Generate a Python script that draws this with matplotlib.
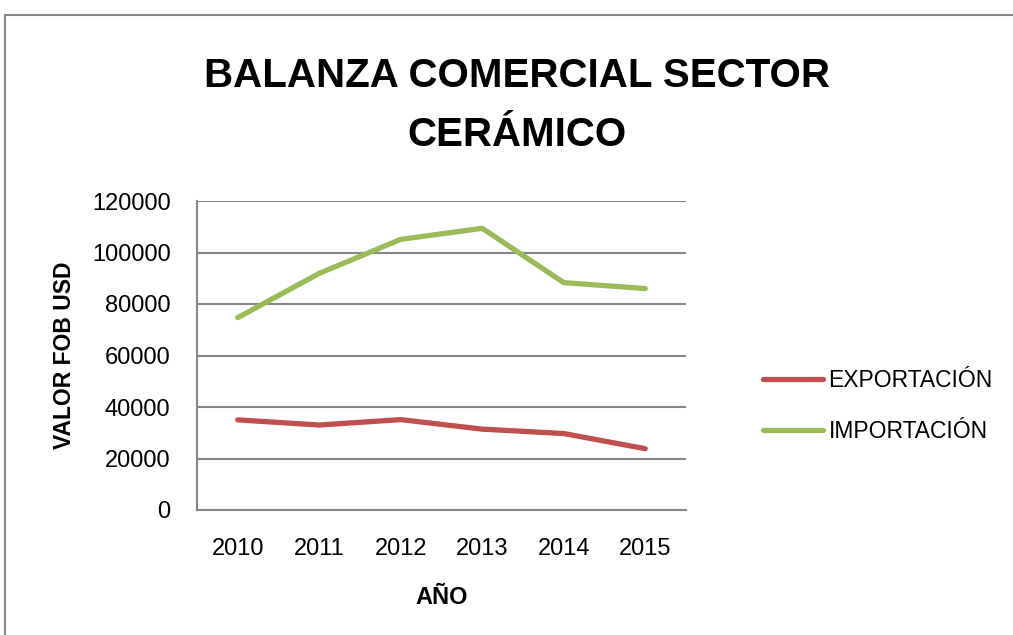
import matplotlib
matplotlib.use("Agg")
import matplotlib.pyplot as plt
from matplotlib.lines import Line2D
from matplotlib.patches import Rectangle

years = ["2010", "2011", "2012", "2013", "2014", "2015"]
exportacion = [35000, 33000, 35100, 31400, 29700, 23800]
importacion = [74700, 91900, 105100, 109400, 88300, 86000]
yticks = [0, 20000, 40000, 60000, 80000, 100000, 120000]

plt.rcParams['font.family'] = ['Liberation Sans', 'DejaVu Sans']

W, H = 1013, 635
fig = plt.figure(figsize=(W / 100, H / 100), dpi=100)
fig.patch.set_facecolor('white')

# outer chart frame
fig.patches.append(Rectangle((5 / W, -0.05), 1.2, 1 - 15 / H + 0.05, transform=fig.transFigure,
                             fill=False, edgecolor='#868686', linewidth=1.5))

ax = fig.add_axes([197 / W, 1 - 510 / H, (686 - 197) / W, (510 - 201) / H])
x = list(range(len(years)))
red = '#C0504D'
green = '#9BBB59'
ax.plot(x, exportacion, color=red, linewidth=3.8, solid_capstyle='round', solid_joinstyle='round', zorder=3)
ax.plot(x, importacion, color=green, linewidth=3.8, solid_capstyle='round', solid_joinstyle='round', zorder=3)

ax.set_xlim(-0.5, len(years) - 0.5)
ax.set_ylim(0, 120000)
ax.set_yticks(yticks)
ax.set_yticklabels([str(v) for v in yticks])
ax.set_xticks(x)
ax.set_xticklabels(years)
ax.yaxis.grid(True, color='#868686', linewidth=1.5)
ax.set_axisbelow(True)
for s in ['top', 'right']:
    ax.spines[s].set_visible(False)
ax.spines['left'].set_color('#868686')
ax.spines['bottom'].set_color('#868686')
ax.spines['left'].set_linewidth(1.5)
ax.spines['bottom'].set_linewidth(1.5)
ax.tick_params(axis='both', length=0, labelsize=17, colors='#000000')
ax.tick_params(axis='y', pad=19)
ax.tick_params(axis='x', pad=20)

ax.set_xlabel('AÑO', fontsize=17, fontweight='bold', labelpad=19)
ax.set_ylabel('VALOR FOB USD', fontsize=16.5, fontweight='bold', labelpad=11.5)

fig.text(517 / W, 1 - 76 / H, 'BALANZA COMERCIAL SECTOR', ha='center', va='center',
         fontsize=29, fontweight='bold')
fig.text(517 / W, 1 - 135 / H, 'CERÁMICO', ha='center', va='center',
         fontsize=29, fontweight='bold')

handles = [Line2D([], [], color=red, linewidth=3.8, solid_capstyle='round'),
           Line2D([], [], color=green, linewidth=3.8, solid_capstyle='round')]
fig.legend(handles, ['EXPORTACIÓN', 'IMPORTACIÓN'], loc='center left',
           bbox_to_anchor=(763 / W, 1 - 406 / H), frameon=False, fontsize=16.5,
           handlelength=2.6, handletextpad=0.26, labelspacing=1.25,
           borderpad=0, borderaxespad=0)

fig.savefig('out.png', dpi=100, facecolor='white')
